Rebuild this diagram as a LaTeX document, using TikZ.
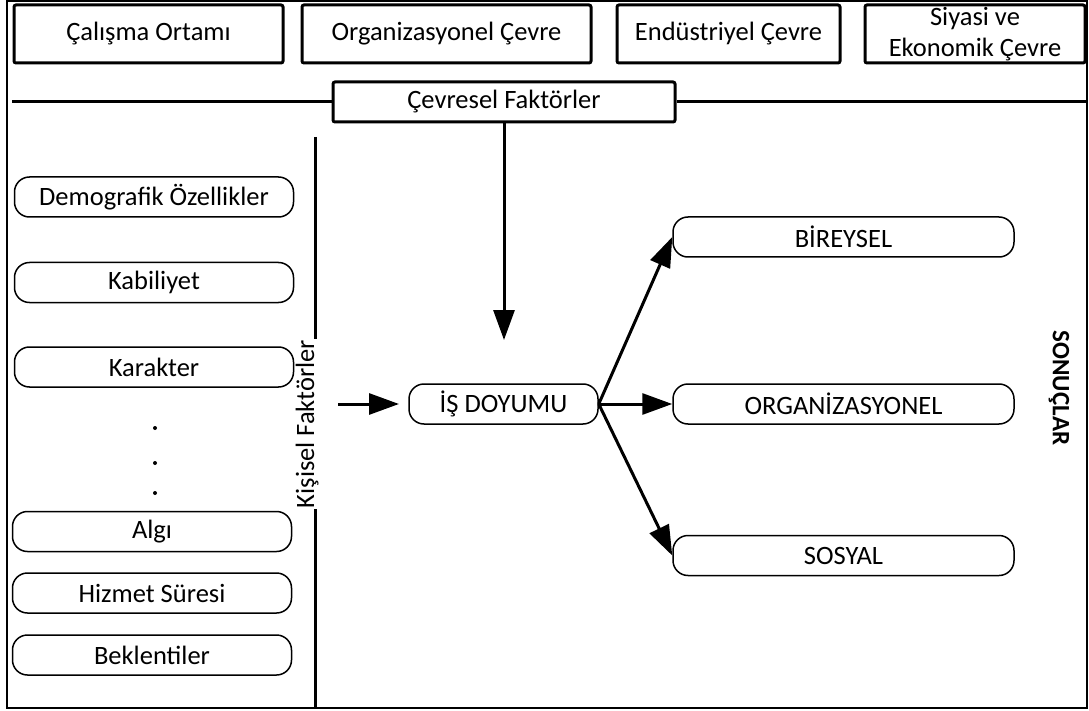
\documentclass[tikz,border=0pt]{standalone}
\usepackage{fontspec}
\setmainfont{Carlito}
\usetikzlibrary{arrows.meta}
\begin{document}
\begin{tikzpicture}[x=1pt,y=-1pt,
  every node/.style={font=\fontsize{26.5}{31}\selectfont},
  topbox/.style={draw, line width=3pt, rounded corners=2pt, inner sep=0pt, align=center},
  rbox/.style={draw, line width=1.5pt, rounded corners=15pt, inner sep=0pt, minimum height=40pt},
  leftbox/.style={rbox, minimum width=279pt},
  rightbox/.style={rbox, minimum width=341pt},
  heavy/.style={line width=3pt},
  arr/.style={line width=3pt, -{Triangle[length=30pt,width=21pt]}},
]
\useasboundingbox (0,0) rectangle (1089,711);
% frame
\draw[line width=1.5pt] (7,1) rectangle (1087,708);
\draw[line width=2.5pt] (7,708) -- (1087,708);
\draw[line width=2.5pt] (7,1) -- (1087,1);

% top boxes
\node[topbox, minimum width=269pt, minimum height=58pt] (t1) at (148.5,34) {Çalışma Ortamı};
\node[topbox, minimum width=289pt, minimum height=58pt] (t2) at (446.5,34) {Organizasyonel Çevre};
\node[topbox, minimum width=223pt, minimum height=58pt] (t3) at (728.5,34) {Endüstriyel Çevre};
\node[topbox, minimum width=220pt, minimum height=58pt] (t4) at (975,34) {Siyasi ve\\Ekonomik Çevre};

% environmental factors
\node[topbox, minimum width=342pt, minimum height=40pt] (cev) at (504,102) {Çevresel Faktörler};
\coordinate (hl) at (12,102);
\coordinate (hr) at (1087,102);
\draw[heavy] (hl) -- (cev.west);
\draw[heavy] (cev.east) -- (hr);

% personal factors line
\coordinate (vtop) at (315,137);
\coordinate (vbot) at (315,707);
\node[rotate=90, anchor=base, inner sep=1pt, font=\fontsize{26.5}{31}\selectfont] (kis) at (314,424) {Kişisel Faktörler};
\draw[heavy] (vtop) -- (vtop |- kis.east);
\draw[heavy] (vbot) -- (vbot |- kis.west);

% left boxes
\node[leftbox] (l1) at (154,197) {Demografik Özellikler};
\node[leftbox] (l2) at (154,282.5) {Kabiliyet};
\node[leftbox] (l3) at (154,367) {Karakter};
\fill (155,428) circle (2pt);
\fill (155,463) circle (2pt);
\fill (155,493) circle (2pt);
\node[leftbox] (l4) at (152,531.5) {Algı};
\node[leftbox] (l5) at (152,593) {Hizmet Süresi};
\node[leftbox] (l6) at (152,655) {Beklentiler};

% center
\node[rbox, minimum width=189pt] (is) at (503.5,404) {İŞ DOYUMU};

% right boxes
\node[rightbox] (bir) at (843.5,237) {BİREYSEL};
\node[rightbox] (org) at (843.5,404) {ORGANİZASYONEL};
\node[rightbox] (sos) at (843.5,555.5) {SOSYAL};

\node[rotate=-90, font=\fontsize{25}{30}\selectfont\bfseries] (son) at (1059,388) {SONUÇLAR};

% arrows
\coordinate (dtip) at (504,340);
\draw[arr] (cev.south) -- (dtip);
\coordinate (lstart) at (338,404);
\coordinate (ltip) at (399,404);
\draw[arr] (lstart) -- (ltip);
\draw[arr] (is.east) -- (bir.west);
\draw[arr] (is.east) -- (org.west);
\draw[arr] (is.east) -- (sos.west);
\end{tikzpicture}
\end{document}
